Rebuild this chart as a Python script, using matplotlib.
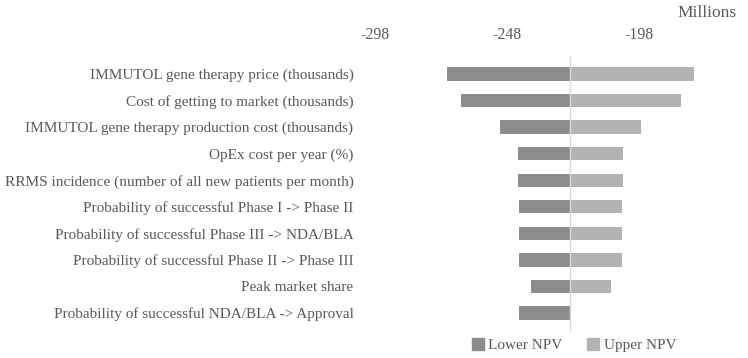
import matplotlib.pyplot as plt
from matplotlib.patches import Patch

# tornado data (NPV, millions)
labels = ["IMMUTOL gene therapy price (thousands)",
          "Cost of getting to market (thousands)",
          "IMMUTOL gene therapy production cost (thousands)",
          "OpEx cost per year (%)",
          "RRMS incidence (number of all new patients per month)",
          "Probability of successful Phase I -> Phase II",
          "Probability of successful Phase III -> NDA/BLA",
          "Probability of successful Phase II -> Phase III",
          "Peak market share",
          "Probability of successful NDA/BLA -> Approval"]
lower_npv = [-270.7, -265.6, -250.6, -244.1, -244.1, -243.5, -243.5, -243.5, -239.1, -243.5]
upper_npv = [-177.4, -182.4, -197.4, -204.1, -204.1, -204.7, -204.7, -204.7, -208.9, -224.2]
base = -224.2
ticks = [-298, -248, -198]

dark = '#8c8c8c'
light = '#b3b3b3'
txt = '#595959'

plt.rcParams['font.family'] = ['Liberation Serif', 'DejaVu Serif']

fig = plt.figure(figsize=(7.48, 3.58), dpi=100)
ax = fig.add_axes([375/748, 1 - 326.3/358, (724-375)/748, (326.3-60.7)/358])

y = list(range(len(labels)))
ax.barh(y, [l - base for l in lower_npv], left=base, height=0.5, color=dark)
ax.barh(y, [u - base for u in upper_npv], left=base, height=0.5, color=light)
ax.axvline(base, ymin=-0.015, ymax=1.015, color='#d9d9d9', lw=1, clip_on=False, zorder=3)

ax.set_ylim(len(labels) - 0.5, -0.5)
ax.set_xlim(-298, -166)
ax.set_yticks(y)
ax.set_yticklabels(labels, fontsize=11, color=txt)
ax.set_xticks(ticks)
ax.set_xticklabels([str(t) for t in ticks], fontsize=11.3, color=txt)
ax.xaxis.tick_top()
ax.tick_params(axis='x', length=0, pad=13)
ax.tick_params(axis='y', length=0, pad=15.5)
for s in ax.spines.values():
    s.set_visible(False)

fig.text(737/748, 1 - 13/358, 'Millions', ha='right', va='center', fontsize=12.5, color=txt)

handles = [Patch(color=dark, label='Lower NPV'), Patch(color=light, label='Upper NPV')]
fig.legend(handles=handles, loc='center', bbox_to_anchor=(574/748, 1 - 345/358), ncol=2,
           frameon=False, fontsize=11, labelcolor=txt, handlelength=0.8, handleheight=0.8,
           handletextpad=0.3, columnspacing=1.6)

fig.savefig('out.png', dpi=100)
